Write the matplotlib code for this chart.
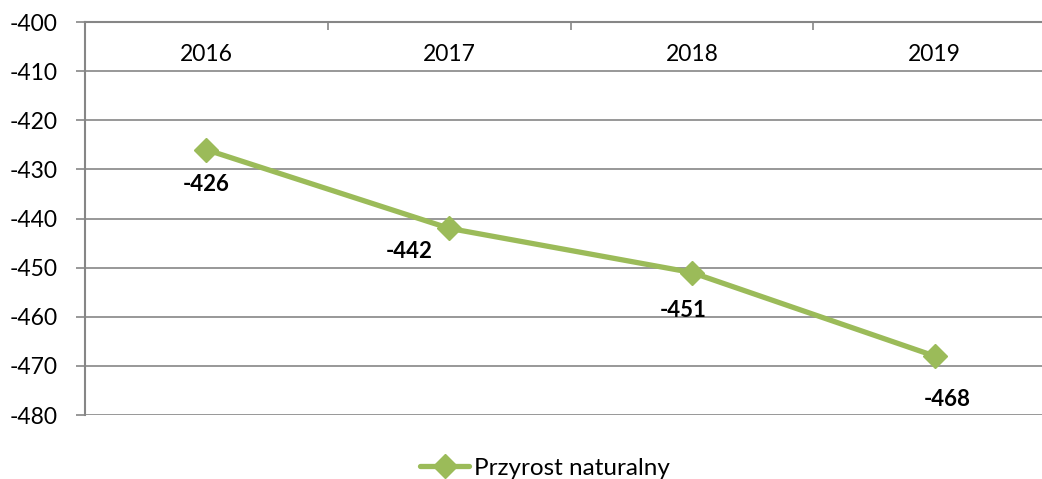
import matplotlib.pyplot as plt

# data
years = ["2016", "2017", "2018", "2019"]
values = [-426, -442, -451, -468]
series_name = "Przyrost naturalny"

# label offsets (points) for the data labels, as placed in the original
label_offsets = [(0, -25), (-29, -17), (-6, -27), (9, -31)]

GREEN = "#9BBB59"
GRID = "#868686"

plt.rcParams["font.family"] = ["Lato", "DejaVu Sans"]
plt.rcParams["axes.unicode_minus"] = False

fig = plt.figure(figsize=(10.42, 4.79), dpi=100)
ax = fig.add_axes([85 / 1042, 1 - 415 / 479, (1056 - 85) / 1042, (415 - 22) / 479])

x = list(range(len(years)))
ax.plot(x, values, color=GREEN, lw=3.8, marker="D", markersize=12,
        markerfacecolor=GREEN, markeredgecolor=GREEN, label=series_name,
        solid_capstyle="round", zorder=3)

for xi, v, off in zip(x, values, label_offsets):
    ax.annotate(str(v), (xi, v), xytext=off, textcoords="offset points",
                ha="center", va="center", fontsize=16, fontweight="bold")

ax.set_xlim(-0.5, len(years) - 0.5)
ax.set_ylim(-480, -400)
ax.set_yticks(range(-480, -399, 10))
ax.yaxis.grid(True, color=GRID, lw=1.2)
ax.set_axisbelow(True)

# category axis crosses at the top
ax.set_xticks(x)
ax.set_xticklabels(years)
ax.set_xticks([i - 0.5 for i in range(len(years) + 1)], minor=True)
ax.tick_params(axis="x", which="major", top=True, bottom=False, labeltop=True,
               labelbottom=False, length=0, pad=-31, labelsize=16.5)
ax.tick_params(axis="x", which="minor", top=True, bottom=False, direction="in",
               length=6, width=1.2, color=GRID)
ax.tick_params(axis="y", length=6.5, width=1.2, color=GRID, pad=13, labelsize=16.5)

for side in ["right", "bottom"]:
    ax.spines[side].set_visible(False)
for side in ["left", "top"]:
    ax.spines[side].set_color(GRID)
    ax.spines[side].set_linewidth(1.5)

leg = fig.legend(loc="lower center", bbox_to_anchor=(0.523, -0.045), frameon=False,
                 fontsize=17.5, handlelength=2.0, handletextpad=0.2)

fig.savefig("out.png", dpi=100)
